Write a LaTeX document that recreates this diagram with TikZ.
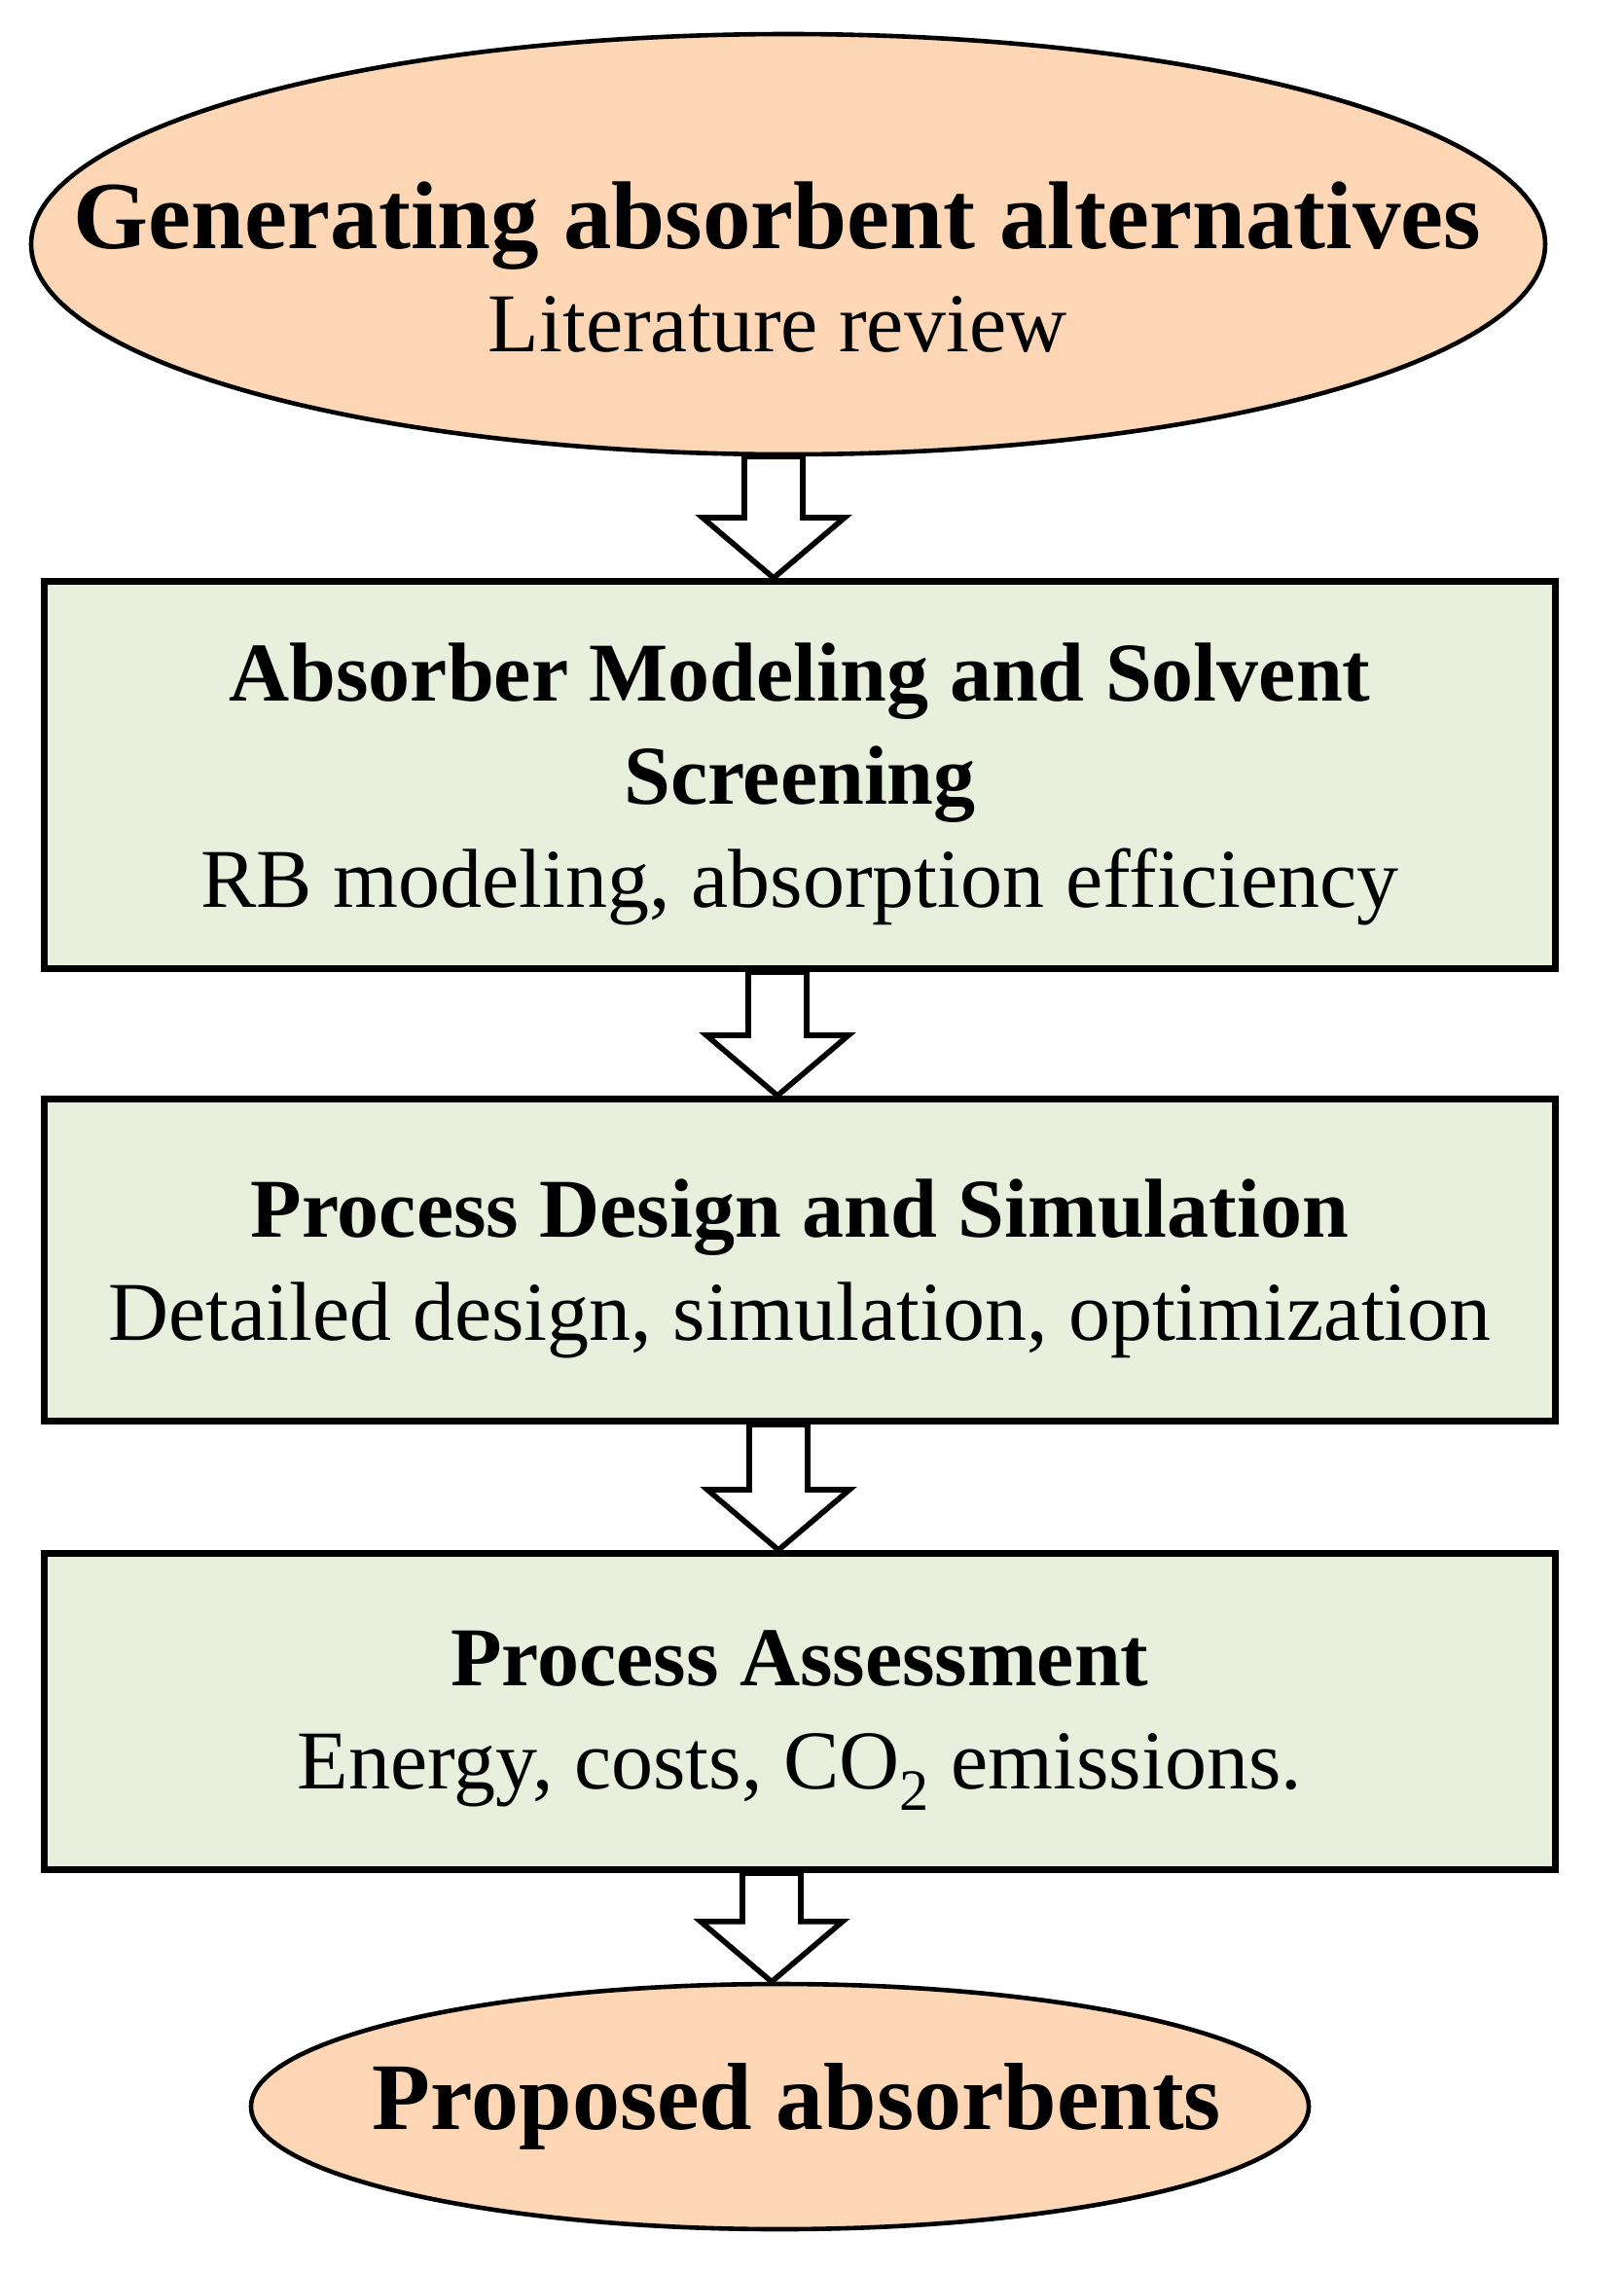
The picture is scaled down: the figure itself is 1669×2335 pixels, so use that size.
\documentclass[tikz,border=0pt]{standalone}
\usepackage{fontspec}
\setmainfont{Liberation Serif}
\usetikzlibrary{shapes.geometric}
\usetikzlibrary{calc}
\definecolor{peach}{HTML}{FDD7B5}
\definecolor{sage}{HTML}{E9EFDD}
\newcommand{\flowarrow}[3]{%
\coordinate (top) at (#1,0 |- #2.south);
\coordinate (tip) at (#1,0 |- #3.north);
\draw[blockarrow] ($(top)+(-30,0)$) -- ($(tip)+(-30,-62)$) -- ($(tip)+(-73,-62)$) -- (tip)
  -- ($(tip)+(73,-62)$) -- ($(tip)+(30,-62)$) -- ($(top)+(30,0)$) -- cycle;}

\begin{document}
\begin{tikzpicture}[x=0.5pt,y=-0.5pt]
\tikzset{terminal/.style={ellipse,draw,line width=2.3pt,fill=peach,inner sep=0pt},
stepbox/.style={rectangle,draw,line width=3.5pt,fill=sage,minimum width=776.5pt,inner sep=0pt},
steptext/.style={align=center,font=\fontsize{43}{53}\selectfont}}
\tikzset{blockarrow/.style={draw,line width=2.8pt,fill=white,line join=miter}}
\useasboundingbox (0,0) rectangle (1669,2335);
% start and end
\node[terminal,minimum width=778pt,minimum height=216pt] (gen) at (810,251) {};
\node[steptext] (gentext) at (799,275) {{\fontsize{49.5}{53}\selectfont\bfseries Generating absorbent alternatives}\\Literature review};
\node[terminal,minimum width=543.5pt,minimum height=126pt] (prop) at (801.5,2165) {};
\node[font=\fontsize{49}{53}\selectfont\bfseries] (proptext) at (819,2165) {Proposed absorbents};
% steps
\node[stepbox,minimum height=199pt] (model) at (822,796.5) {};
\node[steptext] (modeltext) at (822,806) {\textbf{Absorber Modeling and Solvent}\\\textbf{Screening}\\RB modeling, absorption efficiency};
\node[stepbox,minimum height=165.5pt] (design) at (822,1295) {};
\node[steptext] (designtext) at (822,1304) {\textbf{Process Design and Simulation}\\Detailed design, simulation, optimization};
\node[stepbox,minimum height=162.5pt] (assess) at (822,1759) {};
\node[steptext] (assesstext) at (822,1768) {\textbf{Process Assessment}\\Energy, costs, CO\textsubscript{2} emissions.};
% arrows
\flowarrow{795}{gen}{model}
\flowarrow{799}{model}{design}
\flowarrow{800}{design}{assess}
\flowarrow{793}{assess}{prop}
\end{tikzpicture}
\end{document}
